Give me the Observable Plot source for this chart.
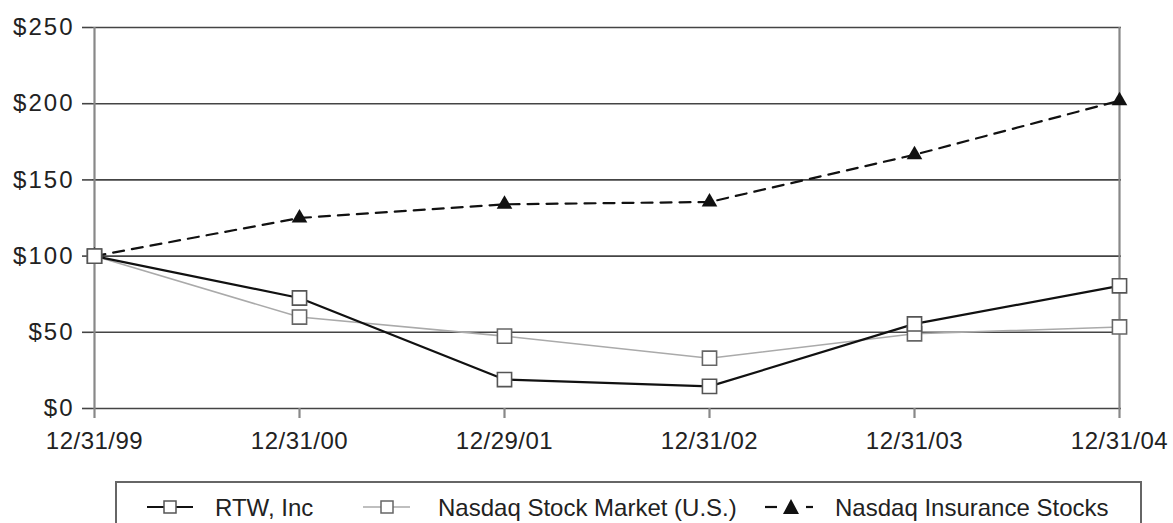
<!DOCTYPE html>
<html>
<head>
<meta charset="utf-8">
<script src="https://cdn.jsdelivr.net/npm/d3@7"></script>
<script src="https://cdn.jsdelivr.net/npm/@observablehq/plot@0.6"></script>
<style>
  html, body { margin: 0; padding: 0; background: #fff; }
  #wrap { position: relative; width: 1173px; height: 523px; overflow: hidden; font-family: "Liberation Sans", Arial, sans-serif; }
  #chart { position: absolute; left: 0; top: 0; }
  #legend { position: absolute; left: 0; top: 470px; }
  g[aria-label="y-axis tick label"] text { letter-spacing: 2px; }
  g[aria-label="x-axis tick label"] text { letter-spacing: 0.5px; }
</style>
</head>
<body>
<div id="wrap">
  <div id="chart"></div>
  <div id="legend"></div>
</div>
<script>
const dates = ["12/31/99", "12/31/00", "12/29/01", "12/31/02", "12/31/03", "12/31/04"];
const rtw = [100, 72.5, 19, 14.5, 55.5, 80.5];
const nasdaqMarket = [100, 60, 47.5, 33, 49, 53.5];
const nasdaqInsurance = [100, 125, 134, 135.5, 166.5, 202];
const yTicks = [0, 50, 100, 150, 200, 250];
const seriesNames = ["RTW, Inc", "Nasdaq Stock Market (U.S.)", "Nasdaq Insurance Stocks"];

const toRows = (vals, name) => vals.map((v, i) => ({date: dates[i], value: v, series: name}));
const rtwRows = toRows(rtw, seriesNames[0]);
const mktRows = toRows(nasdaqMarket, seriesNames[1]);
const insRows = toRows(nasdaqInsurance, seriesNames[2]);

const font = '"Liberation Sans", Arial, sans-serif';

const chart = Plot.plot({
  width: 1173,
  height: 470,
  marginLeft: 92,
  marginRight: 52,
  marginTop: 27,
  marginBottom: 62,
  style: {fontFamily: font, fontSize: "24px", color: "#222", background: "#fff"},
  x: {type: "point", domain: dates, padding: 0, label: null},
  y: {domain: [0, 250], label: null},
  marks: [
    Plot.gridY(yTicks, {stroke: "#444", strokeOpacity: 1, strokeWidth: 1.6}),
    Plot.ruleX([dates[0], dates[dates.length - 1]], {y1: 0, y2: 250, stroke: "#888", strokeWidth: 2.2}),
    Plot.axisY(yTicks, {tickSize: 10, tickPadding: 8, stroke: "#444", strokeWidth: 1.6, tickFormat: d => "$" + d, fill: "#222", label: null}),
    Plot.axisX(dates, {tickSize: 10, tickPadding: 13, stroke: "#888", strokeWidth: 2.2, fill: "#222", label: null}),
    Plot.line(mktRows, {x: "date", y: "value", stroke: "#aaa", strokeWidth: 1.6}),
    Plot.line(rtwRows, {x: "date", y: "value", stroke: "#111", strokeWidth: 2.2}),
    Plot.line(insRows, {x: "date", y: "value", stroke: "#111", strokeWidth: 2.2, strokeDasharray: "11,8"}),
    Plot.dot(insRows, {x: "date", y: "value", symbol: "triangle", r: 5.8, fill: "#111", stroke: "none"}),
    Plot.dot(mktRows, {x: "date", y: "value", symbol: "square", r: 8, fill: "#fff", stroke: "#666", strokeWidth: 1.6}),
    Plot.dot(rtwRows, {x: "date", y: "value", symbol: "square", r: 8, fill: "#fff", stroke: "#555", strokeWidth: 1.6})
  ]
});
document.getElementById("chart").appendChild(chart);

// Legend
const lg = d3.select("#legend").append("svg").attr("width", 1173).attr("height", 53)
  .style("font-family", font);
const cy = 37; // 507 - 470
lg.append("rect").attr("x", 116).attr("y", 12).attr("width", 1025).attr("height", 60)
  .attr("fill", "#fff").attr("stroke", "#666").attr("stroke-width", 2);
// RTW
lg.append("line").attr("x1", 147).attr("x2", 193).attr("y1", cy).attr("y2", cy).attr("stroke", "#111").attr("stroke-width", 2.2);
lg.append("rect").attr("x", 164).attr("y", cy - 6).attr("width", 12).attr("height", 12).attr("fill", "#fff").attr("stroke", "#555").attr("stroke-width", 1.5);
lg.append("text").attr("x", 215).attr("y", cy + 9).attr("font-size", 24).attr("fill", "#222").text(seriesNames[0]);
// Nasdaq market
lg.append("line").attr("x1", 363).attr("x2", 410).attr("y1", cy).attr("y2", cy).attr("stroke", "#aaa").attr("stroke-width", 1.6);
lg.append("rect").attr("x", 381).attr("y", cy - 6).attr("width", 12).attr("height", 12).attr("fill", "#fff").attr("stroke", "#666").attr("stroke-width", 1.5);
lg.append("text").attr("x", 438).attr("y", cy + 9).attr("font-size", 24).attr("fill", "#222").text(seriesNames[1]);
// Insurance
lg.append("line").attr("x1", 765).attr("x2", 777).attr("y1", cy).attr("y2", cy).attr("stroke", "#111").attr("stroke-width", 2.2);
lg.append("path").attr("d", `M${791},${cy - 8}L${799},${cy + 7}L${783},${cy + 7}Z`).attr("fill", "#111");
lg.append("line").attr("x1", 806).attr("x2", 813).attr("y1", cy).attr("y2", cy).attr("stroke", "#111").attr("stroke-width", 2.2);
lg.append("text").attr("x", 835).attr("y", cy + 9).attr("font-size", 24).attr("fill", "#222").text(seriesNames[2]);
</script>
</body>
</html>
